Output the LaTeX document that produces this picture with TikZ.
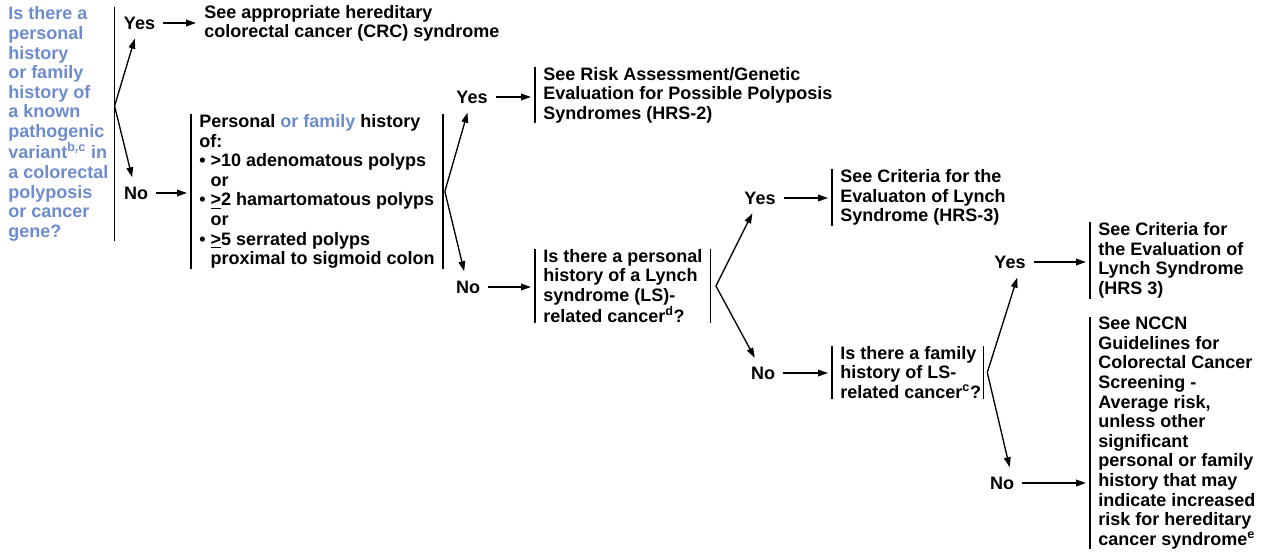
\documentclass[tikz,border=0pt]{standalone}
\usepackage{fontspec}
\setmainfont{Liberation Sans}
\usetikzlibrary{arrows.meta, positioning, calc}
\definecolor{qblue}{RGB}{110,140,205}

\begin{document}
\begin{tikzpicture}[
    x=0.75pt, y=-0.75pt,
    >={Triangle[length=7.5pt, width=5pt]},
    every node/.style={font=\bfseries\fontsize{13.5}{14.7}\selectfont},
    lbl/.style={inner xsep=6pt, inner ysep=3pt},
    txtbox/.style={anchor=west, align=left, inner xsep=6pt, inner ysep=0pt},
    bar/.style={line width=1pt},
    arr/.style={->, line width=1pt},
    slant/.style={arr, shorten >=4pt},
    tobar/.style={arr, shorten >=3pt}
  ]
  \useasboundingbox (0,0) rectangle (1267,552);

  % Start: known pathogenic variant?
  \node[txtbox, text=qblue, inner xsep=4.5pt] (q0) at (2,124)
    {Is there a\\personal\\history\\or family\\history of\\a known\\pathogenic\\
     variant\textsuperscript{b,c} in\\a colorectal\\polyposis\\or cancer\\gene?};
  \draw[bar] (q0.north east) -- (q0.south east);
  \coordinate (br1) at ([yshift=13.5pt]q0.east);

  \node[lbl] (yes1) at (139.5,23) {Yes};
  \node[lbl] (no1) at (136,193) {No};
  \draw[slant] (br1) -- (yes1);
  \draw[slant] (br1) -- (no1);

  \node[txtbox] (out1) at (196,23.5)
    {See appropriate hereditary\\colorectal cancer (CRC) syndrome};
  \draw[arr] (yes1.east) -- (yes1.east -| out1.west);

  % Step 2: polyp history
  \node[txtbox] (b2) at (191,191.5)
    {Personal \textcolor{qblue}{or family} history\\of:\\
     \textbullet\ >10 adenomatous polyps\\\hphantom{\textbullet\ }or\\
     \textbullet\ \underline{>}2 hamartomatous polyps\\\hphantom{\textbullet\ }or\\
     \textbullet\ \underline{>}5 serrated polyps\\\hphantom{\textbullet\ }proximal to sigmoid colon};
  \draw[tobar] (no1.east) -- (no1.east -| b2.west);
  \draw[bar] (b2.north west) -- (b2.south west) (b2.north east) -- (b2.south east);
  \coordinate (br2) at ([xshift=1.5pt]b2.east);

  \node[lbl] (yes2) at (472,97) {Yes};
  \node[lbl] (no2) at (468,287) {No};
  \draw[slant] (br2) -- (yes2);
  \draw[slant] (br2) -- (no2);

  \node[txtbox] (out2) at (535,95)
    {See Risk Assessment/Genetic\\Evaluation for Possible Polyposis\\Syndromes (HRS-2)};
  \draw[tobar] (yes2.east) -- (yes2.east -| out2.west);
  \draw[bar] (out2.north west) -- (out2.south west);

  % Step 3: personal LS-related cancer
  \node[txtbox] (b3) at (535,286)
    {Is there a personal\\history of a Lynch\\syndrome (LS)-\\related cancer\textsuperscript{d}?};
  \draw[tobar] (no2.east) -- (no2.east -| b3.west);
  \draw[bar] (b3.north west) -- (b3.south west) (b3.north east) -- (b3.south east);
  \coordinate (br3) at ([xshift=4pt]b3.east);

  \node[lbl] (yes3) at (760,198) {Yes};
  \node[lbl] (no3) at (763,373) {No};
  \draw[slant] (br3) -- (yes3);
  \draw[slant] (br3) -- (no3);

  \node[txtbox] (out3) at (832,197.5)
    {See Criteria for the\\Evaluaton of Lynch\\Syndrome (HRS-3)};
  \draw[tobar] (yes3.east) -- (yes3.east -| out3.west);
  \draw[bar] (out3.north west) -- (out3.south west);

  % Step 4: family LS-related cancer
  \node[txtbox] (b5) at (832,372.5)
    {Is there a family\\history of LS-\\related cancer\textsuperscript{c}?};
  \draw[tobar] (no3.east) -- (no3.east -| b5.west);
  \draw[bar] (b5.north west) -- (b5.south west)
    ([xshift=-4.5pt]b5.north east) -- ([xshift=-4.5pt]b5.south east);
  \coordinate (br5) at ([xshift=-1.5pt]b5.east);

  \node[lbl] (yes4) at (1010,262) {Yes};
  \node[lbl] (no4) at (1002,483) {No};
  \draw[slant] (br5) -- (yes4.-50);
  \draw[slant] (br5) -- (no4.50);

  \node[txtbox] (out4) at (1090,260.5)
    {See Criteria for\\the Evaluation of\\Lynch Syndrome\\(HRS 3)};
  \draw[tobar] (yes4.east) -- (yes4.east -| out4.west);
  \draw[bar] (out4.north west) -- (out4.south west);

  \node[txtbox] (out5) at (1090,433)
    {See NCCN\\Guidelines for\\Colorectal Cancer\\Screening -\\Average risk,\\
     unless other\\significant\\personal or family\\history that may\\
     indicate increased\\risk for hereditary\\cancer syndrome\textsuperscript{e}};
  \draw[tobar] (no4.east) -- (no4.east -| out5.west);
  \draw[bar] (out5.north west) -- (out5.south west);
\end{tikzpicture}
\end{document}
